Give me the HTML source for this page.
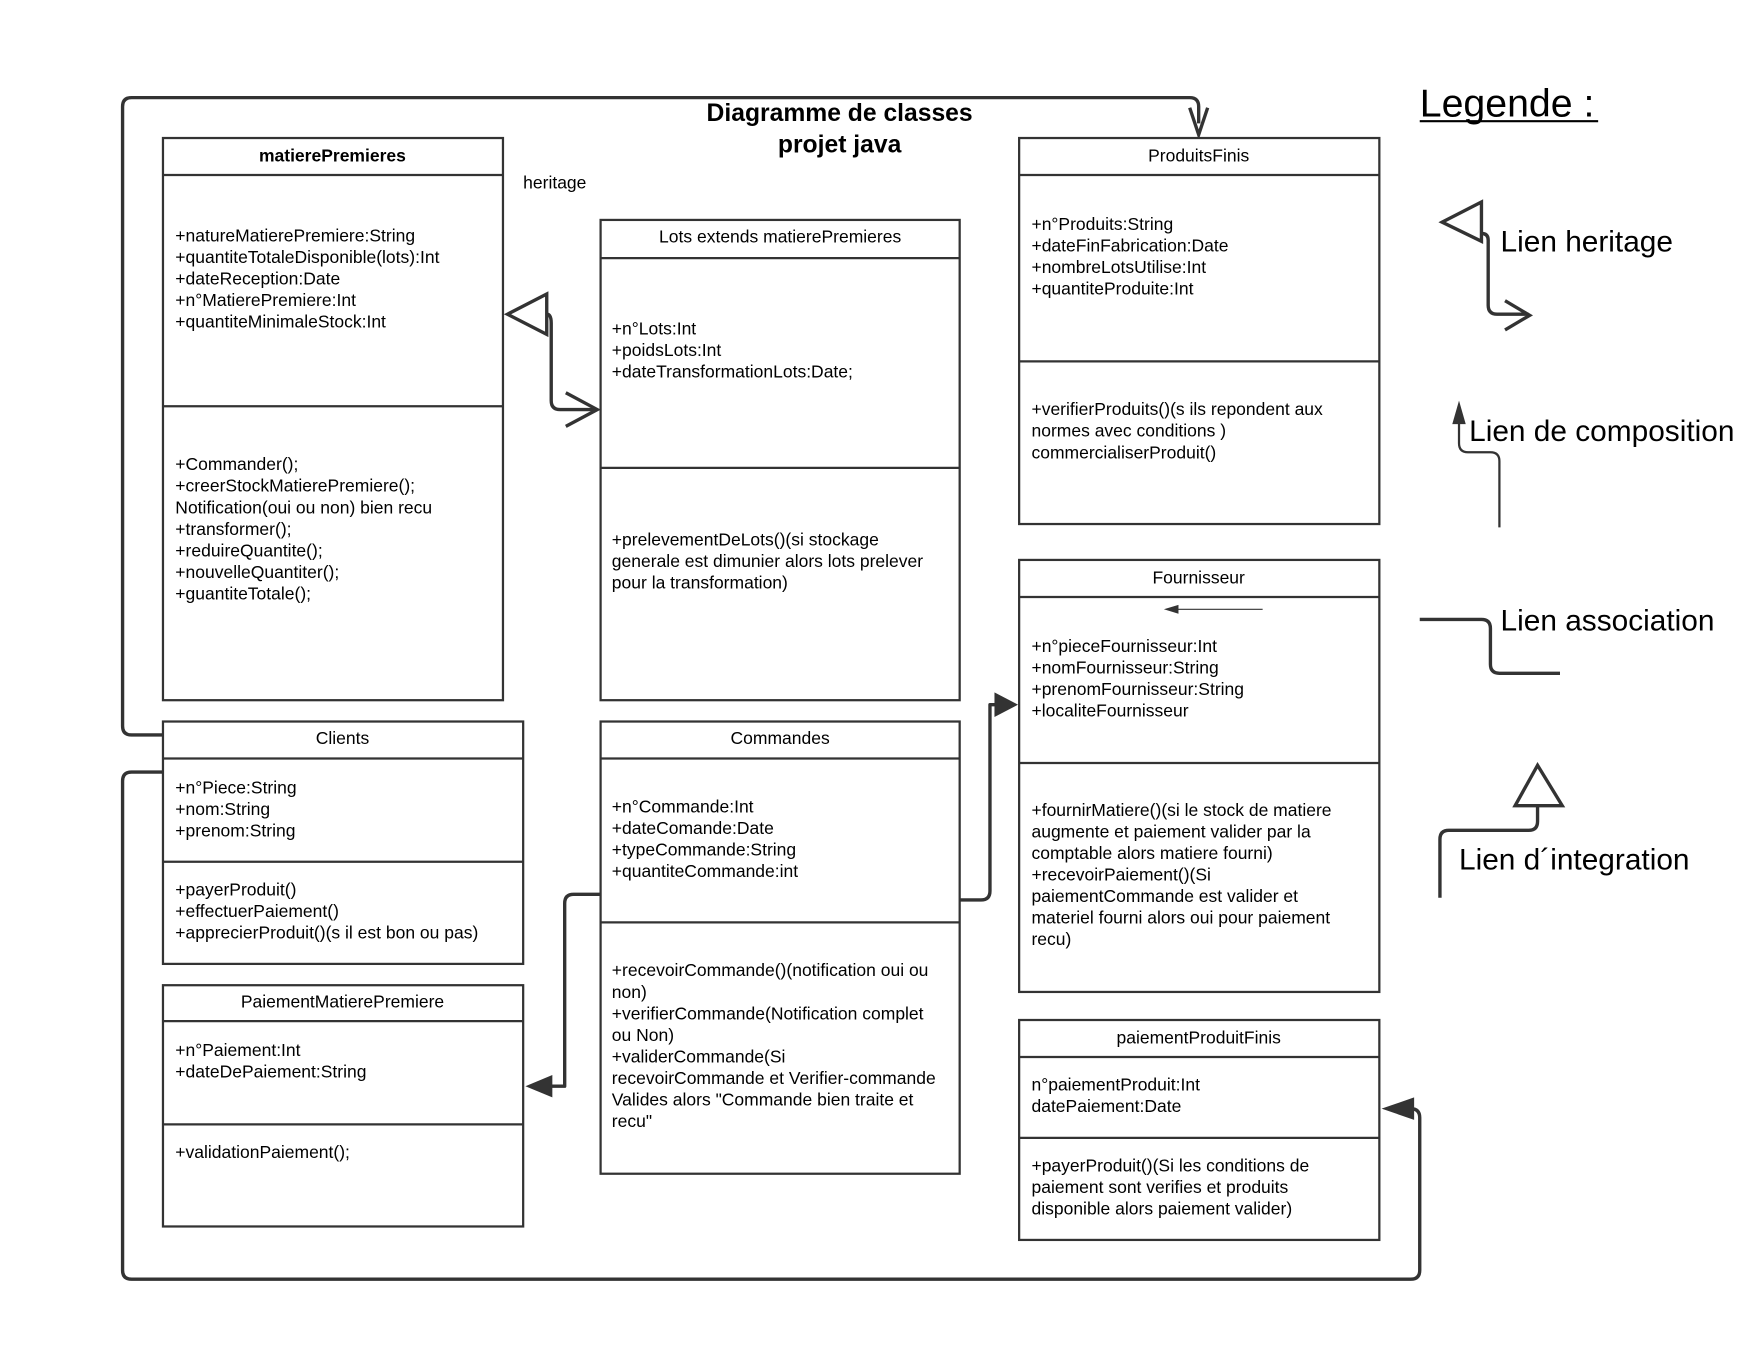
<!DOCTYPE html>
<html><head><meta charset="utf-8"><style>
html,body{margin:0;padding:0;background:#fff;}
svg{display:block;}
text{font-family:"Liberation Sans",sans-serif;fill:#000;}
.t{font-size:15.6px;}
.b{fill:#fff;stroke:#333;stroke-width:2;}
.l{stroke:#333;stroke-width:2;}
.c{fill:none;stroke:#333;stroke-width:3;stroke-linejoin:round;}
.lg{font-size:26.6px;}
</style></head><body>
<svg width="1760" height="1360" viewBox="0 0 1568 1212" xmlns="http://www.w3.org/2000/svg">
<rect width="1568" height="1212" fill="#fff"/>

<path class="c" d="M145 655 H117 Q109 655 109 647 V95 Q109 87 117 87 H1060 Q1068 87 1068 95 V110"/>
<path d="M1060 96 L1068 120 L1076 96" fill="none" stroke="#333" stroke-width="3"/>
<path class="c" d="M145 688 H117 Q109 688 109 696 V1132 Q109 1140 117 1140 H1257 Q1265 1140 1265 1132 V996 Q1265 988 1257 988 H1245"/>
<polygon points="1231,988 1260,978 1260,998" fill="#333"/>
<path class="c" d="M535 797 H511 Q503 797 503 805 V968 H485"/>
<polygon points="468,968 492,958 492,978" fill="#333"/>
<path class="c" d="M855 802 H874 Q882 802 882 794 V628 H892"/>
<polygon points="907,628 886,617 886,639" fill="#333"/>
<path class="c" d="M487 280 Q491 280 491 288 V357 Q491 365 499 365 H530"/>
<path d="M504 350 L532 365 L504 380" fill="none" stroke="#333" stroke-width="3"/>
<polygon points="452,280 487,262 487,298" fill="#fff" stroke="#333" stroke-width="3"/>

<rect class="b" x="145" y="123" width="303" height="501"/>
<line class="l" x1="145" y1="156" x2="448" y2="156"/><line class="l" x1="145" y1="362" x2="448" y2="362"/>
<text class="t" x="296" y="144" text-anchor="middle" font-weight="bold">matierePremieres</text>
<text class="t"><tspan x="156" y="215">+natureMatierePremiere:String</tspan><tspan x="156" dy="19.2">+quantiteTotaleDisponible(lots):Int</tspan><tspan x="156" dy="19.2">+dateReception:Date</tspan><tspan x="156" dy="19.2">+n°MatierePremiere:Int</tspan><tspan x="156" dy="19.2">+quantiteMinimaleStock:Int</tspan></text>
<text class="t"><tspan x="156" y="419">+Commander();</tspan><tspan x="156" dy="19.2">+creerStockMatierePremiere();</tspan><tspan x="156" dy="19.2">Notification(oui ou non) bien recu</tspan><tspan x="156" dy="19.2">+transformer();</tspan><tspan x="156" dy="19.2">+reduireQuantite();</tspan><tspan x="156" dy="19.2">+nouvelleQuantiter();</tspan><tspan x="156" dy="19.2">+guantiteTotale();</tspan></text>

<rect class="b" x="535" y="196" width="320" height="428"/>
<line class="l" x1="535" y1="230" x2="855" y2="230"/><line class="l" x1="535" y1="417" x2="855" y2="417"/>
<text class="t" x="695" y="216" text-anchor="middle">Lots extends matierePremieres</text>
<text class="t"><tspan x="545" y="298">+n°Lots:Int</tspan><tspan x="545" dy="19.2">+poidsLots:Int</tspan><tspan x="545" dy="19.2">+dateTransformationLots:Date;</tspan></text>
<text class="t"><tspan x="545" y="486">+prelevementDeLots()(si stockage</tspan><tspan x="545" dy="19.2">generale est dimunier alors lots prelever</tspan><tspan x="545" dy="19.2">pour la transformation)</tspan></text>

<rect class="b" x="908" y="123" width="321" height="344"/>
<line class="l" x1="908" y1="156" x2="1229" y2="156"/><line class="l" x1="908" y1="322" x2="1229" y2="322"/>
<text class="t" x="1068" y="144" text-anchor="middle">ProduitsFinis</text>
<text class="t"><tspan x="919" y="205">+n°Produits:String</tspan><tspan x="919" dy="19.2">+dateFinFabrication:Date</tspan><tspan x="919" dy="19.2">+nombreLotsUtilise:Int</tspan><tspan x="919" dy="19.2">+quantiteProduite:Int</tspan></text>
<text class="t"><tspan x="919" y="370">+verifierProduits()(s ils repondent aux</tspan><tspan x="919" dy="19.2">normes avec conditions )</tspan><tspan x="919" dy="19.2">commercialiserProduit()</tspan></text>

<rect class="b" x="908" y="499" width="321" height="385"/>
<line class="l" x1="908" y1="532" x2="1229" y2="532"/><line class="l" x1="908" y1="680" x2="1229" y2="680"/>
<text class="t" x="1068" y="520" text-anchor="middle">Fournisseur</text>
<line x1="1045" y1="543" x2="1125" y2="543" stroke="#333" stroke-width="1"/>
<polygon points="1037,543 1050,539 1050,547" fill="#333"/>
<text class="t"><tspan x="919" y="581">+n°pieceFournisseur:Int</tspan><tspan x="919" dy="19.2">+nomFournisseur:String</tspan><tspan x="919" dy="19.2">+prenomFournisseur:String</tspan><tspan x="919" dy="19.2">+localiteFournisseur</tspan></text>
<text class="t"><tspan x="919" y="727">+fournirMatiere()(si le stock de matiere</tspan><tspan x="919" dy="19.2">augmente et paiement valider par la</tspan><tspan x="919" dy="19.2">comptable alors matiere fourni)</tspan><tspan x="919" dy="19.2">+recevoirPaiement()(Si</tspan><tspan x="919" dy="19.2">paiementCommande est valider et</tspan><tspan x="919" dy="19.2">materiel fourni alors oui pour paiement</tspan><tspan x="919" dy="19.2">recu)</tspan></text>

<rect class="b" x="908" y="909" width="321" height="196"/>
<line class="l" x1="908" y1="942" x2="1229" y2="942"/><line class="l" x1="908" y1="1014" x2="1229" y2="1014"/>
<text class="t" x="1068" y="930" text-anchor="middle">paiementProduitFinis</text>
<text class="t"><tspan x="919" y="972">n°paiementProduit:Int</tspan><tspan x="919" dy="19.2">datePaiement:Date</tspan></text>
<text class="t"><tspan x="919" y="1044">+payerProduit()(Si les conditions de</tspan><tspan x="919" dy="19.2">paiement sont verifies et produits</tspan><tspan x="919" dy="19.2">disponible alors paiement valider)</tspan></text>

<rect class="b" x="145" y="643" width="321" height="216"/>
<line class="l" x1="145" y1="676" x2="466" y2="676"/><line class="l" x1="145" y1="768" x2="466" y2="768"/>
<text class="t" x="305" y="663" text-anchor="middle">Clients</text>
<text class="t"><tspan x="156" y="707">+n°Piece:String</tspan><tspan x="156" dy="19.2">+nom:String</tspan><tspan x="156" dy="19.2">+prenom:String</tspan></text>
<text class="t"><tspan x="156" y="798">+payerProduit()</tspan><tspan x="156" dy="19.2">+effectuerPaiement()</tspan><tspan x="156" dy="19.2">+apprecierProduit()(s il est bon ou pas)</tspan></text>

<rect class="b" x="145" y="878" width="321" height="215"/>
<line class="l" x1="145" y1="910" x2="466" y2="910"/><line class="l" x1="145" y1="1002" x2="466" y2="1002"/>
<text class="t" x="305" y="898" text-anchor="middle">PaiementMatierePremiere</text>
<text class="t"><tspan x="156" y="941">+n°Paiement:Int</tspan><tspan x="156" dy="19.2">+dateDePaiement:String</tspan></text>
<text class="t" x="156" y="1032">+validationPaiement();</text>

<rect class="b" x="535" y="643" width="320" height="403"/>
<line class="l" x1="535" y1="676" x2="855" y2="676"/><line class="l" x1="535" y1="822" x2="855" y2="822"/>
<text class="t" x="695" y="663" text-anchor="middle">Commandes</text>
<text class="t"><tspan x="545" y="724">+n°Commande:Int</tspan><tspan x="545" dy="19.2">+dateComande:Date</tspan><tspan x="545" dy="19.2">+typeCommande:String</tspan><tspan x="545" dy="19.2">+quantiteCommande:int</tspan></text>
<text class="t"><tspan x="545" y="870">+recevoirCommande()(notification oui ou</tspan><tspan x="545" dy="19.2">non)</tspan><tspan x="545" dy="19.2">+verifierCommande(Notification complet</tspan><tspan x="545" dy="19.2">ou Non)</tspan><tspan x="545" dy="19.2">+validerCommande(Si</tspan><tspan x="545" dy="19.2">recevoirCommande et Verifier-commande</tspan><tspan x="545" dy="19.2">Valides alors "Commande bien traite et</tspan><tspan x="545" dy="19.2">recu"</tspan></text>

<text x="748" y="108" text-anchor="middle" font-size="22" font-weight="bold">Diagramme de classes</text>
<text x="748" y="136" text-anchor="middle" font-size="22" font-weight="bold">projet java</text>
<text class="t" x="466" y="168">heritage</text>

<text x="1265" y="104" font-size="35">Legende :</text>
<line x1="1265" y1="108" x2="1424" y2="108" stroke="#000" stroke-width="2"/>
<path class="c" d="M1320 208 Q1326 208 1326 214 V272 Q1326 280 1334 280 H1362"/>
<path d="M1341 268 L1363 281 L1341 294" fill="none" stroke="#333" stroke-width="3"/>
<polygon points="1285,198 1320,180 1320,215" fill="#fff" stroke="#333" stroke-width="3"/>
<text class="lg" x="1337" y="224">Lien heritage</text>
<path fill="none" stroke="#333" stroke-width="2" d="M1300 372 V395 Q1300 403 1308 403 H1328 Q1336 403 1336 411 V470"/>
<polygon points="1300,357 1294,378 1306,378" fill="#333"/>
<text class="lg" x="1309" y="393">Lien de composition</text>
<path class="c" d="M1265 552 H1320 Q1328 552 1328 560 V592 Q1328 600 1336 600 H1390"/>
<text class="lg" x="1337" y="562">Lien association</text>
<path class="c" d="M1283 800 V748 Q1283 740 1291 740 H1362 Q1370 740 1370 732 V718"/>
<polygon points="1370,682 1350,718 1392,718" fill="#fff" stroke="#333" stroke-width="3"/>
<text class="lg" x="1300" y="775">Lien d´integration</text>
</svg>
</body></html>
